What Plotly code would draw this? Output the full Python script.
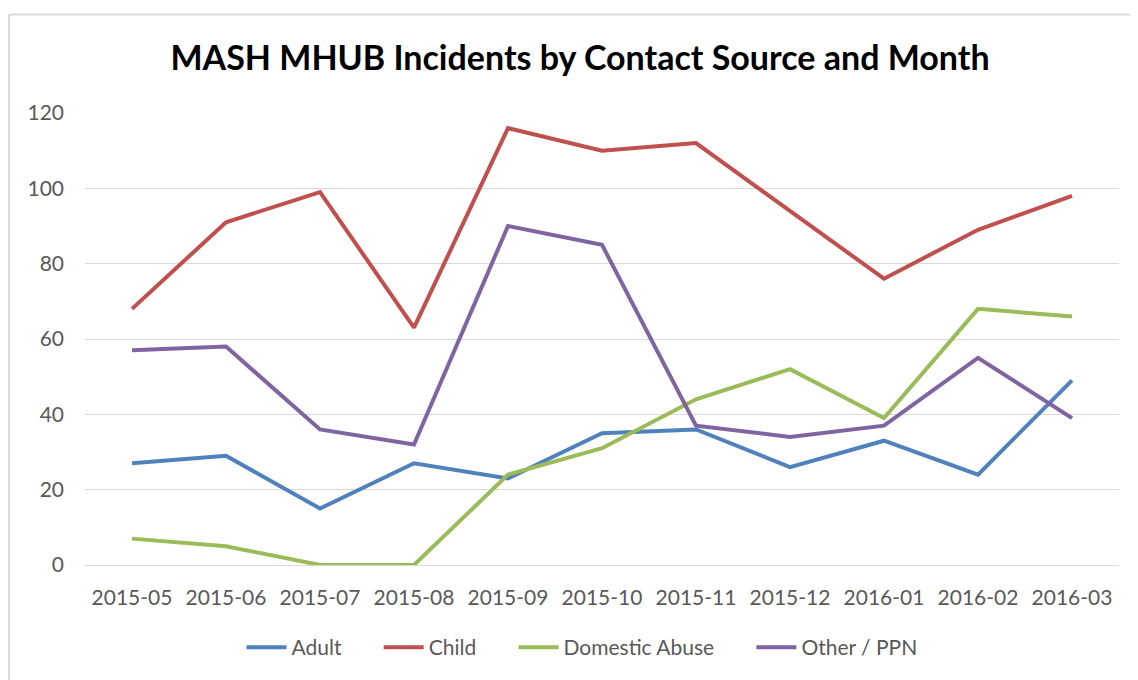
import plotly.graph_objects as go

months = ["2015-05", "2015-06", "2015-07", "2015-08", "2015-09", "2015-10",
          "2015-11", "2015-12", "2016-01", "2016-02", "2016-03"]
adult = [27, 29, 15, 27, 23, 35, 36, 26, 33, 24, 49]
child = [68, 91, 99, 63, 116, 110, 112, 94, 76, 89, 98]
domestic_abuse = [7, 5, 0, 0, 24, 31, 44, 52, 39, 68, 66]
other_ppn = [57, 58, 36, 32, 90, 85, 37, 34, 37, 55, 39]

series = [
    ("Adult", adult, "#4f81bd"),
    ("Child", child, "#c0504d"),
    ("Domestic Abuse", domestic_abuse, "#9bbb59"),
    ("Other / PPN", other_ppn, "#8064a2"),
]

PAD = "\u00a0" * 6
fig = go.Figure()
for i, (name, vals, color) in enumerate(series):
    label = name + (PAD if i < len(series) - 1 else "")
    fig.add_trace(go.Scatter(x=months, y=vals, name=label, mode="lines",
                             line=dict(color=color, width=4)))

# page offset (body margin) compensation
OFF = 8
W, H = 1130, 672
L, T = 85 - OFF, 113 - OFF
R = W - (1119 - OFF)
B = H - (567 - OFF)
pw, ph = W - L - R, H - T - B

def px(x):
    return (x - OFF - L) / pw

def py(y):
    return (H - B - (y - OFF)) / ph

fig.update_layout(
    width=W, height=H,
    margin=dict(l=L, r=R, t=T, b=B),
    plot_bgcolor="white", paper_bgcolor="white",
    font=dict(family="Lato, 'Open Sans', sans-serif", size=21, color="#595959"),
    title=dict(text="<b>MASH MHUB Incidents by Contact Source and Month</b>",
               x=(580 - OFF) / W, xanchor="center", xref="container",
               y=1 - (58 - OFF) / H, yanchor="middle", yref="container",
               font=dict(size=34, color="#000000")),
    legend=dict(orientation="h", x=px(582), xanchor="center",
                y=py(650), yanchor="middle",
                font=dict(size=21, color="#595959"), itemwidth=40,
                tracegroupgap=0),
    showlegend=True,
    xaxis=dict(type="category", range=[-0.5, 10.5], showgrid=False,
               showline=False, ticks="", zeroline=False,
               ticklabelstandoff=18, tickfont=dict(size=21, color="#595959")),
    yaxis=dict(range=[0, 120], dtick=20, showgrid=True, gridcolor="#d9d9d9",
               gridwidth=1.3, zeroline=True, zerolinecolor="#d9d9d9",
               zerolinewidth=1.3, showline=False, ticks="",
               ticklabelstandoff=20, tickfont=dict(size=21, color="#595959")),
    shapes=[
        dict(type="line", xref="paper", yref="paper",
             x0=px(9), x1=px(1160), y0=py(14), y1=py(14),
             line=dict(color="#d9d9d9", width=2)),
        dict(type="line", xref="paper", yref="paper",
             x0=px(9), x1=px(9), y0=py(14), y1=py(700),
             line=dict(color="#d9d9d9", width=2)),
    ],
)

fig.write_html("out.html")
